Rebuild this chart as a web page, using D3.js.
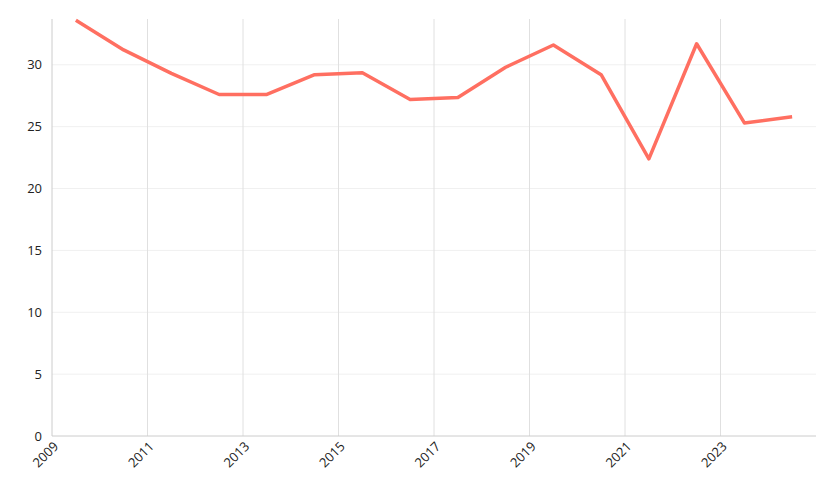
<!DOCTYPE html>
<html><head><meta charset="utf-8">
<script src="https://cdn.jsdelivr.net/npm/d3@7"></script>
<style>body{margin:0;background:#fff;font-family:"Open Sans",sans-serif;}</style>
</head><body><svg id="c" width="836" height="500"></svg>
<script>
var years = [2009.5, 2010.5, 2011.5, 2012.5, 2013.5, 2014.5, 2015.5, 2016.5, 2017.5, 2018.5, 2019.5, 2020.5, 2021.5, 2022.5, 2023.5, 2024.5];
var values = [33.6, 31.2, 29.3, 27.6, 27.6, 29.2, 29.35, 27.2, 27.35, 29.8, 31.6, 29.2, 22.4, 31.7, 25.3, 25.8];
var xTicks = [2009, 2011, 2013, 2015, 2017, 2019, 2021, 2023];
var yTicks = [0, 5, 10, 15, 20, 25, 30];

var margin = {left: 52, right: 20, top: 19, bottom: 64};
var w = 836 - margin.left - margin.right, h = 500 - margin.top - margin.bottom;
var svg = d3.select('#c').append('g').attr('transform', 'translate(' + margin.left + ',' + margin.top + ')');
var x = d3.scaleLinear().domain([2009, 2025]).range([0, w]);
var y = d3.scaleLinear().domain([0, 33.7]).range([h, 0]);

// grid
svg.selectAll('.hg').data(yTicks.slice(1)).enter().append('line')
	.attr('x1', 0).attr('x2', w).attr('y1', y).attr('y2', y)
	.attr('stroke', '#f0f0f0');
svg.selectAll('.vg').data(xTicks.slice(1)).enter().append('line')
	.attr('x1', x).attr('x2', x).attr('y1', 0).attr('y2', h)
	.attr('stroke', '#e0e0e0');

// axes
svg.append('line').attr('x1', 0).attr('x2', 0).attr('y1', 0).attr('y2', h).attr('stroke', '#ccc');
svg.append('line').attr('x1', 0).attr('x2', w).attr('y1', h).attr('y2', h).attr('stroke', '#ccc');
svg.selectAll('.yl').data(yTicks).enter().append('text')
	.attr('x', -10).attr('y', y).attr('dy', '0.35em').attr('text-anchor', 'end')
	.attr('font-size', 13).attr('fill', '#222').text(function(d) { return d; });
svg.selectAll('.xl').data(xTicks).enter().append('text')
	.attr('transform', function(d) { return 'translate(' + (x(d) + 4) + ',' + (h + 8) + ') rotate(-45)'; })
	.attr('text-anchor', 'end').attr('dy', '0.35em')
	.attr('font-size', 13).attr('fill', '#222').text(function(d) { return d; });

var line = d3.line().x(function(d, i) { return x(years[i]); }).y(function(d) { return y(d); });
svg.append('path').datum(values).attr('d', line)
	.attr('fill', 'none').attr('stroke', '#ff6f61').attr('stroke-width', 3.5)
	.attr('stroke-linejoin', 'round');
</script></body></html>
